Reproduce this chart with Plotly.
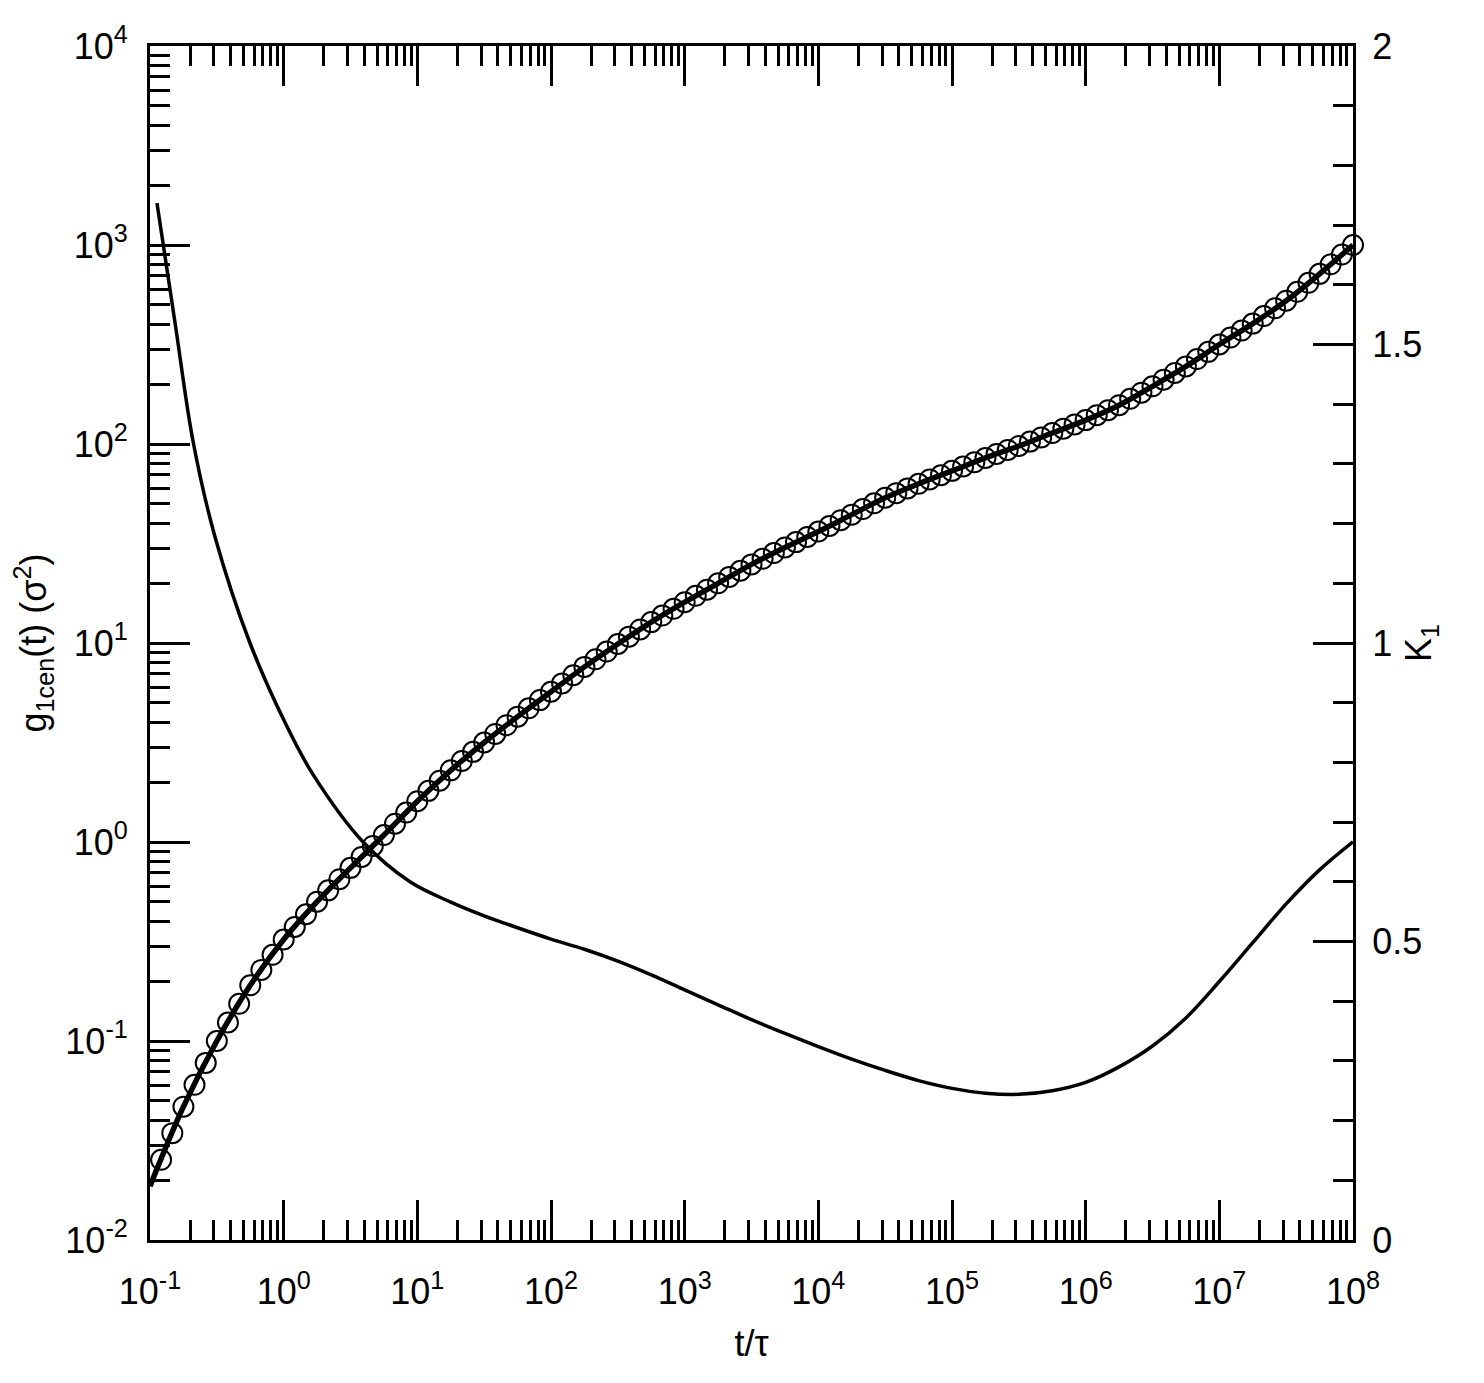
import numpy as np
import plotly.graph_objects as go

# ---- simulation points (open circles), stored as log10 values
circle_log10_t = [
    -0.917, -0.833, -0.75, -0.667, -0.583, -0.5, -0.417, -0.333, -0.25, -0.167, -0.083, 0.0,
    0.083, 0.167, 0.25, 0.333, 0.417, 0.5, 0.583, 0.667, 0.75, 0.833, 0.917, 1.0,
    1.083, 1.167, 1.25, 1.333, 1.417, 1.5, 1.583, 1.667, 1.75, 1.833, 1.917, 2.0,
    2.083, 2.167, 2.25, 2.333, 2.417, 2.5, 2.583, 2.667, 2.75, 2.833, 2.917, 3.0,
    3.083, 3.167, 3.25, 3.333, 3.417, 3.5, 3.583, 3.667, 3.75, 3.833, 3.917, 4.0,
    4.083, 4.167, 4.25, 4.333, 4.417, 4.5, 4.583, 4.667, 4.75, 4.833, 4.917, 5.0,
    5.083, 5.167, 5.25, 5.333, 5.417, 5.5, 5.583, 5.667, 5.75, 5.833, 5.917, 6.0,
    6.083, 6.167, 6.25, 6.333, 6.417, 6.5, 6.583, 6.667, 6.75, 6.833, 6.917, 7.0,
    7.083, 7.167, 7.25, 7.333, 7.417, 7.5, 7.583, 7.667, 7.75, 7.833, 7.917, 8.0,
]
circle_log10_g = [
    -1.597, -1.463, -1.33, -1.22, -1.11, -1.0, -0.907, -0.813, -0.72, -0.643, -0.567, -0.49,
    -0.427, -0.363, -0.30, -0.243, -0.187, -0.13, -0.075, -0.02, 0.035, 0.092, 0.148, 0.205,
    0.257, 0.308, 0.36, 0.407, 0.453, 0.5, 0.543, 0.587, 0.63, 0.672, 0.713, 0.755,
    0.797, 0.838, 0.88, 0.918, 0.957, 0.995, 1.032, 1.068, 1.105, 1.138, 1.172, 1.205,
    1.237, 1.268, 1.30, 1.332, 1.363, 1.395, 1.423, 1.452, 1.48, 1.507, 1.533, 1.56,
    1.588, 1.617, 1.645, 1.673, 1.702, 1.73, 1.753, 1.777, 1.80, 1.822, 1.843, 1.865,
    1.887, 1.908, 1.93, 1.95, 1.97, 1.99, 2.012, 2.033, 2.055, 2.077, 2.098, 2.12,
    2.145, 2.17, 2.195, 2.227, 2.258, 2.29, 2.323, 2.357, 2.39, 2.427, 2.463, 2.50,
    2.535, 2.57, 2.605, 2.643, 2.682, 2.72, 2.765, 2.81, 2.855, 2.903, 2.952, 3.0,
]

# ---- fitted curve (thick line), log10 values
fit_log10_t = [
    -1.0, -0.75, -0.5, -0.25, 0.0, 0.25, 0.5, 0.75, 1.0, 1.25, 1.5, 1.75, 2.0,
    2.25, 2.5, 2.75, 3.0, 3.25, 3.5, 3.75, 4.0, 4.25, 4.5, 4.75, 5.0, 5.25,
    5.5, 5.75, 6.0, 6.25, 6.5, 6.75, 7.0, 7.25, 7.5, 7.75, 8.0,
]
fit_log10_g = [
    -1.73, -1.33, -1.0, -0.72, -0.49, -0.30, -0.13, 0.035, 0.205, 0.36, 0.5, 0.63, 0.755,
    0.88, 0.995, 1.105, 1.205, 1.30, 1.395, 1.48, 1.56, 1.645, 1.73, 1.80, 1.865, 1.93,
    1.99, 2.055, 2.12, 2.195, 2.29, 2.39, 2.50, 2.605, 2.72, 2.855, 3.0,
]

# ---- K1 (right axis, linear); t stored as log10
k1_log10_t = [
    -0.948, -0.813, -0.678, -0.514, -0.252, 0.025, 0.219, 0.593, 0.945, 1.25, 1.5, 1.75, 2.0,
    2.25, 2.5, 2.75, 3.0, 3.25, 3.5, 3.75, 4.0, 4.25, 4.5, 4.75, 5.0, 5.25,
    5.5, 5.75, 6.0, 6.25, 6.5, 6.75, 7.0, 7.25, 7.5, 7.75, 8.0,
]
k1_val = [
    1.737, 1.537, 1.338, 1.178, 1.0, 0.86, 0.78, 0.667, 0.6, 0.566, 0.543, 0.523, 0.504,
    0.487, 0.467, 0.444, 0.419, 0.394, 0.369, 0.346, 0.324, 0.303, 0.284, 0.267, 0.254, 0.246,
    0.244, 0.250, 0.264, 0.290, 0.325, 0.372, 0.433, 0.498, 0.563, 0.620, 0.667,
]

x_tick_exponents = [-1, 0, 1, 2, 3, 4, 5, 6, 7, 8]
y_tick_exponents = [-2, -1, 0, 1, 2, 3, 4]
y2_tick_values = [0, 0.5, 1, 1.5, 2]
y2_tick_labels = ["0", "0.5", "1", "1.5", "2"]

FONT = "Arial, Liberation Sans, sans-serif"
FS = 36

fig = go.Figure()

fig.add_trace(go.Scatter(
    x=np.power(10.0, circle_log10_t), y=np.power(10.0, circle_log10_g),
    mode="markers",
    marker=dict(symbol="circle-open", size=20, color="black", line=dict(width=2, color="black")),
    cliponaxis=False, showlegend=False,
))
fig.add_trace(go.Scatter(
    x=np.power(10.0, fit_log10_t), y=np.power(10.0, fit_log10_g),
    mode="lines", line=dict(color="black", width=5.5, shape="spline"),
    showlegend=False,
))
fig.add_trace(go.Scatter(
    x=np.power(10.0, k1_log10_t), y=k1_val, yaxis="y2",
    mode="lines", line=dict(color="black", width=3.5, shape="spline"),
    showlegend=False,
))

x_minor = [m * 10.0 ** e for e in range(-1, 8) for m in range(2, 10)]
y_minor = [m * 10.0 ** e for e in range(-2, 4) for m in range(2, 10)]

fig.update_layout(
    width=1484, height=1383,
    margin=dict(l=142, r=139, t=32, b=151, pad=0),
    paper_bgcolor="white", plot_bgcolor="white",
    font=dict(family=FONT, size=FS, color="black"),
    xaxis=dict(
        type="log", range=[-1, 8],
        tickvals=[10.0 ** e for e in x_tick_exponents],
        ticktext=[f"10<sup>{e}</sup>" for e in x_tick_exponents],
        ticks="inside", ticklen=40, tickwidth=3, tickcolor="black",
        showline=True, linewidth=3, linecolor="black", mirror="ticks",
        showgrid=False, zeroline=False,
        minor=dict(tickvals=x_minor, ticks="inside", ticklen=20, tickwidth=3,
                   tickcolor="black", showgrid=False),
        tickfont=dict(size=FS), ticklabelstandoff=18,
        title=dict(text="t/τ", font=dict(size=FS), standoff=20),
    ),
    yaxis=dict(
        type="log", range=[-2, 4],
        tickvals=[10.0 ** e for e in y_tick_exponents],
        ticktext=[f"10<sup>{e}</sup>" for e in y_tick_exponents],
        ticks="inside", ticklen=40, tickwidth=3, tickcolor="black",
        showline=True, linewidth=3, linecolor="black", mirror=False,
        showgrid=False, zeroline=False,
        minor=dict(tickvals=y_minor, ticks="inside", ticklen=20, tickwidth=3,
                   tickcolor="black", showgrid=False),
        tickfont=dict(size=FS), ticklabelstandoff=12,
        title=dict(text="g<sub>1cen</sub>(t) (σ<sup>2</sup>)", font=dict(size=FS), standoff=8),
    ),
    yaxis2=dict(
        overlaying="y", side="right", range=[0, 2],
        tickvals=y2_tick_values, ticktext=y2_tick_labels,
        ticks="inside", ticklen=40, tickwidth=3, tickcolor="black",
        showline=True, linewidth=3, linecolor="black",
        showgrid=False, zeroline=False,
        minor=dict(tick0=0, dtick=0.1, ticks="inside", ticklen=20, tickwidth=3,
                   tickcolor="black", showgrid=False),
        tickfont=dict(size=FS), ticklabelstandoff=9,
    ),
    annotations=[dict(
        text="K<sub>1</sub>", xref="paper", yref="paper",
        x=(1421 - 150) / 1203, y=0.5, xanchor="center", yanchor="middle",
        textangle=-90, showarrow=False, font=dict(size=FS, family=FONT, color="black"),
    )],
)

fig.write_html("out.html")
